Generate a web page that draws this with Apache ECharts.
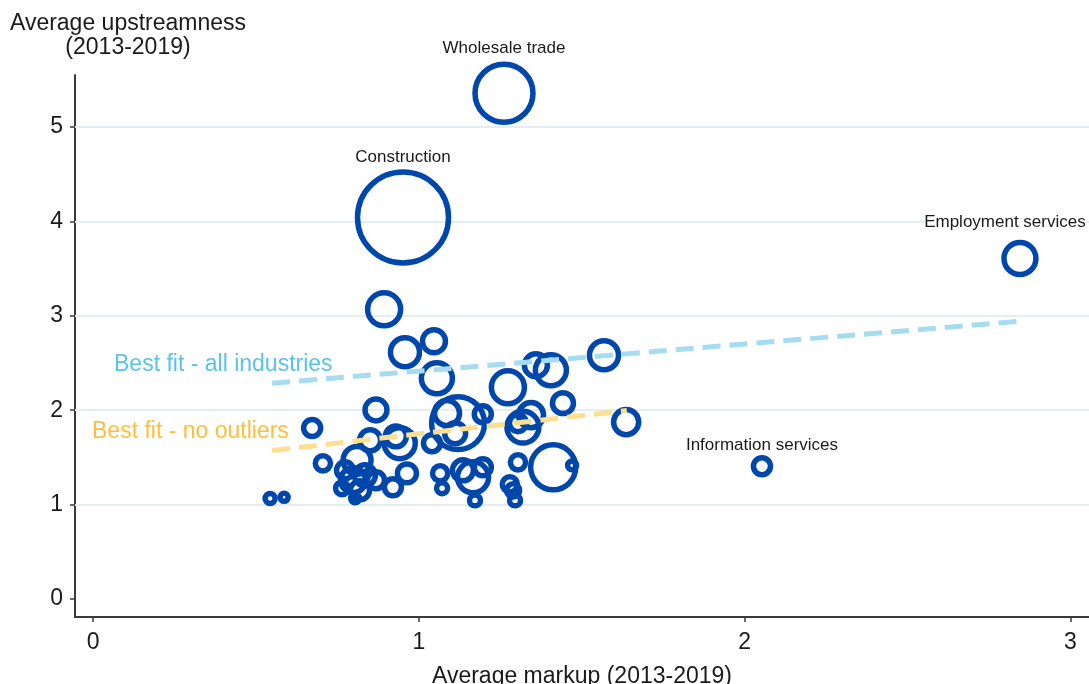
<!DOCTYPE html>
<html>
<head>
<meta charset="utf-8">
<script src="https://cdn.jsdelivr.net/npm/echarts@6/dist/echarts.min.js"></script>
<style>
  html, body { margin: 0; padding: 0; background: #fff; }
  #chart { width: 1089px; height: 684px; }
</style>
</head>
<body>
<div id="chart"></div>
<script>
// Industry averages, 2013-2019
const industryName = [
  'Wholesale trade', 'Construction', 'Employment services', 'Information services',
  '', '', '', '', '', '', '', '', '', '', '', '', '', '', '', '', '', '', '', '', '',
  '', '', '', '', '', '', '', '', '', '', '', '', '', '', '', '', '', '', '', '', '',
  '', '', '', '', '', ''
];
const markup = [
  1.261, 0.951, 2.845, 2.053,
  0.893, 0.957, 1.046, 1.055, 1.568, 1.359, 1.405, 1.273, 1.442, 1.636, 1.319,
  1.304, 1.344, 1.196, 1.120, 1.086, 1.111, 1.040, 0.868, 0.672, 0.941, 0.929,
  0.850, 0.810, 1.412, 1.470, 1.304, 0.705, 0.543, 0.586, 0.798, 0.773, 0.834,
  0.764, 0.819, 0.804, 0.868, 0.920, 0.963, 1.065, 1.071, 1.135, 1.166, 1.196,
  1.172, 1.279, 1.295, 1.289
];
const upstreamness = [
  5.357, 4.041, 3.607, 1.406,
  3.069, 2.614, 2.730, 2.338, 2.582, 2.476, 2.423, 2.243, 2.075, 1.874, 1.821,
  1.863, 1.948, 1.958, 1.863, 1.969, 1.757, 1.651, 2.003, 1.812, 1.651, 1.723,
  1.681, 1.469, 1.395, 1.416, 1.448, 1.437, 1.066, 1.077, 1.258, 1.363, 1.310,
  1.173, 1.152, 1.067, 1.258, 1.183, 1.331, 1.331, 1.173, 1.363, 1.289, 1.395,
  1.045, 1.215, 1.045, 1.151
];
// Relative industry size (bubble area)
const industryWeight = [
  33.6, 82.8, 10.2, 2.9,
  10.9, 8.4, 5.3, 9.6, 8.4, 5.3, 9.6, 10.9, 4.4, 6.3, 10.2,
  2.9, 6.3, 2.9, 28.0, 6.3, 4.4, 2.9, 4.8, 2.9, 9.6, 4.4,
  4.4, 7.8, 20.3, 0.8, 2.3, 2.3, 1.0, 0.64, 6.3, 2.9, 4.4,
  1.7, 3.6, 0.8, 2.9, 2.9, 3.6, 2.3, 1.2, 4.4, 9.6, 2.9,
  1.2, 2.3, 1.2, 1.7
];

// Fitted lines (endpoints)
const fitAllMarkup = [0.549, 2.836];
const fitAllUpstream = [2.285, 2.940];
const fitTrimMarkup = [0.549, 1.638];
const fitTrimUpstream = [1.574, 1.997];

// Axis ticks
const xTicks = [0, 1, 2, 3];
const yTicks = [0, 1, 2, 3, 4, 5];
const yGridLines = [1, 2, 3, 4, 5];

const FONT = 'Arial, "Liberation Sans", sans-serif';
const BLUE = '#0047ab';

// Per-industry label nudges
const labelOffset = {
  'Wholesale trade': [0, 0],
  'Construction': [0, 2],
  'Employment services': [-15, -4],
  'Information services': [0, 4]
};

const bubbleData = markup.map((m, i) => {
  const item = { value: [m, upstreamness[i], industryWeight[i]], name: industryName[i] };
  if (industryName[i]) {
    item.label = {
      show: true,
      position: 'top',
      distance: 5,
      formatter: '{b}',
      color: '#1a1a1a',
      fontFamily: FONT,
      fontSize: 17,
      backgroundColor: '#fff',
      offset: labelOffset[industryName[i]] || [0, 0]
    };
  }
  return item;
});

const chart = echarts.init(document.getElementById('chart'), null, { renderer: 'canvas' });

const axisCommon = {
  type: 'value',
  axisLine: { show: true, onZero: false, lineStyle: { color: '#3a3a3a', width: 2 } },
  axisTick: { show: true, length: 5, lineStyle: { color: '#3a3a3a', width: 1.5 } },
  splitLine: { show: false },
  axisLabel: { color: '#1a1a1a', fontFamily: FONT, fontSize: 23, margin: 12 }
};

chart.setOption({
  animation: false,
  backgroundColor: '#fff',
  grid: { left: 75, right: 0, top: 75, bottom: 67, containLabel: false, outerBoundsMode: 'none' },
  xAxis: Object.assign({}, axisCommon, {
    min: -0.056,
    max: 3.057,
    axisTick: Object.assign({}, axisCommon.axisTick, { customValues: xTicks }),
    axisLabel: Object.assign({}, axisCommon.axisLabel, { customValues: xTicks, margin: 14 }),
    name: 'Average markup (2013-2019)',
    nameLocation: 'middle',
    nameGap: 48,
    nameTextStyle: { color: '#1a1a1a', fontFamily: FONT, fontSize: 23 }
  }),
  yAxis: Object.assign({}, axisCommon, {
    min: -0.19,
    max: 5.55,
    axisTick: Object.assign({}, axisCommon.axisTick, { customValues: yTicks }),
    axisLabel: Object.assign({}, axisCommon.axisLabel, { customValues: yTicks, margin: 12 })
  }),
  graphic: [
    {
      type: 'text',
      x: 128,
      y: 12,
      style: {
        text: 'Average upstreamness\n(2013-2019)',
        textAlign: 'center',
        textVerticalAlign: 'top',
        font: '23px ' + FONT,
        lineHeight: 24,
        fill: '#1a1a1a'
      }
    },
    {
      type: 'text',
      x: 114,
      y: 365,
      style: {
        text: 'Best fit - all industries',
        textAlign: 'left',
        textVerticalAlign: 'middle',
        font: '23px ' + FONT,
        fill: '#5bc2e8'
      }
    },
    {
      type: 'text',
      x: 92,
      y: 432,
      style: {
        text: 'Best fit - no outliers',
        textAlign: 'left',
        textVerticalAlign: 'middle',
        font: '23px ' + FONT,
        fill: '#fcc03f'
      }
    }
  ],
  series: [
    {
      // horizontal reference lines
      type: 'line',
      data: [],
      silent: true,
      z: 1,
      markLine: {
        z: 1,
        silent: true,
        symbol: 'none',
        label: { show: false },
        lineStyle: { color: '#e4edf0', width: 2, type: 'solid' },
        data: yGridLines.map(v => ({ yAxis: v }))
      }
    },
    {
      type: 'scatter',
      z: 3,
      data: bubbleData,
      symbol: 'circle',
      symbolSize: v => 10 * Math.sqrt(v[2]),
      itemStyle: { color: 'rgba(0,0,0,0)', borderColor: BLUE, borderWidth: 5.5, opacity: 1 },
      emphasis: { disabled: true }
    },
    {
      type: 'line',
      z: 4,
      data: fitAllMarkup.map((m, i) => [m, fitAllUpstream[i]]),
      showSymbol: false,
      silent: true,
      lineStyle: { color: '#a6dcf0', width: 5, type: [18, 9] }
    },
    {
      type: 'line',
      z: 4,
      data: fitTrimMarkup.map((m, i) => [m, fitTrimUpstream[i]]),
      showSymbol: false,
      silent: true,
      lineStyle: { color: '#fde08f', width: 5, type: [18, 9] }
    }
  ]
});
</script>
</body>
</html>
